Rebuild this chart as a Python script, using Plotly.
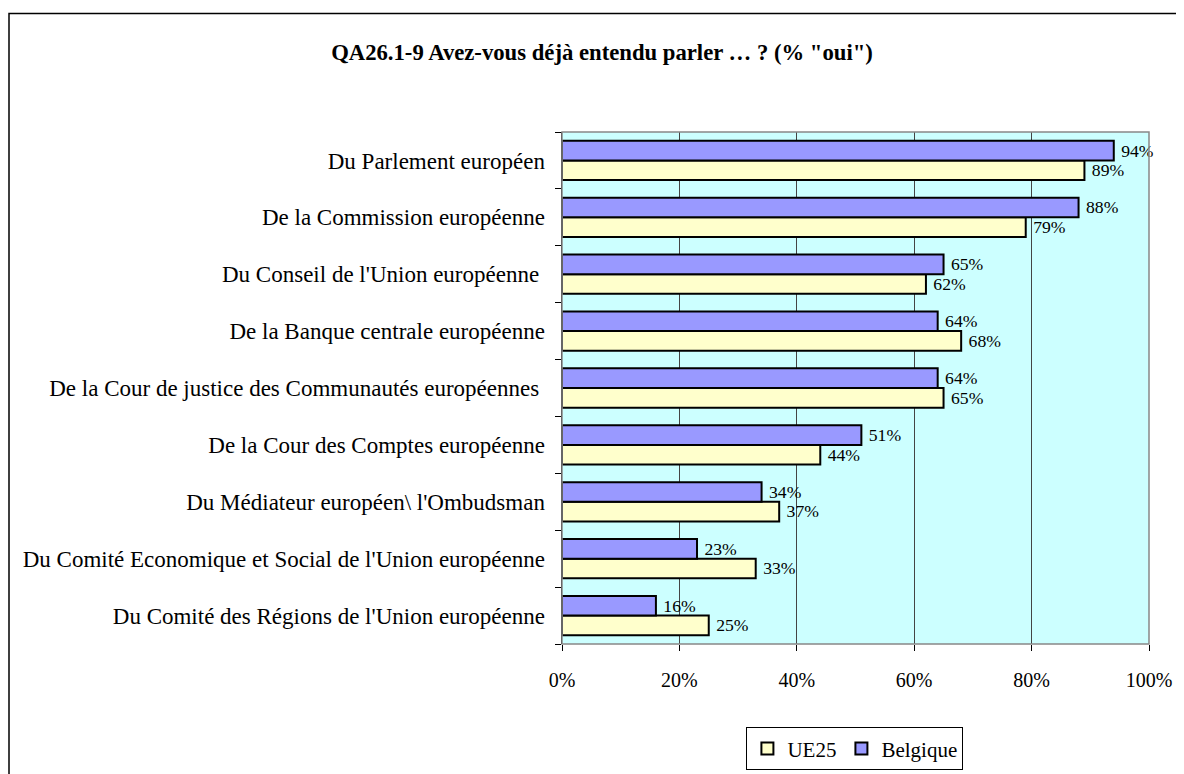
import plotly.graph_objects as go

categories = [
    "Du Parlement européen",
    "De la Commission européenne",
    "Du Conseil de l'Union européenne ",
    "De la Banque centrale européenne",
    "De la Cour de justice des Communautés européennes ",
    "De la Cour des Comptes européenne",
    "Du Médiateur européen\\ l'Ombudsman",
    "Du Comité Economique et Social de l'Union européenne",
    "Du Comité des Régions de l'Union européenne",
]
ue25 = [89, 79, 62, 68, 65, 44, 37, 33, 25]
belgique = [94, 88, 65, 64, 64, 51, 34, 23, 16]
tick_vals = [0, 20, 40, 60, 80, 100]
tick_text = ["0%", "20%", "40%", "60%", "80%", "100%"]

W, H = 1184, 774
L, R, T, B = 554, 43, 124, 131
pw, ph = W - L - R, H - T - B

font = "Liberation Serif"
fig = go.Figure()
fig.add_trace(go.Bar(
    y=categories, x=ue25, orientation="h", name="UE25",
    marker=dict(color="#FFFFCC", line=dict(color="black", width=2)),
    text=[f" {v}%" for v in ue25], textposition="outside", cliponaxis=False,
    textfont=dict(family=font, size=18, color="black"),
))
fig.add_trace(go.Bar(
    y=categories, x=belgique, orientation="h", name="Belgique",
    marker=dict(color="#9999FF", line=dict(color="black", width=2)),
    text=[f" {v}%" for v in belgique], textposition="outside", cliponaxis=False,
    textfont=dict(family=font, size=18, color="black"),
))

fig.update_layout(
    width=W, height=H,
    margin=dict(l=L, r=R, t=T, b=B),
    barmode="group", bargap=0.31, bargroupgap=0,
    paper_bgcolor="white", plot_bgcolor="#CCFFFF",
    font=dict(family=font, size=23, color="black"),
    title=dict(text="<b>QA26.1-9 Avez-vous déjà entendu parler … ? (% \"oui\")</b>",
               x=594 / W, xanchor="center", y=1 - 44 / H, yanchor="middle",
               font=dict(family=font, size=22.7, color="black")),
    legend=dict(orientation="h", x=0.499, xanchor="center", y=-0.163, yanchor="top",
                bordercolor="black", borderwidth=1, bgcolor="white",
                font=dict(family=font, size=21), traceorder="normal",
                itemwidth=30),
    xaxis=dict(range=[0, 100], tickvals=tick_vals, ticktext=tick_text,
               showgrid=True, gridcolor="#444444", gridwidth=1,
               ticks="outside", ticklen=6, tickcolor="black",
               ticklabelstandoff=12,
               showline=False, zeroline=False, tickfont=dict(size=20)),
    yaxis=dict(categoryorder="array", categoryarray=categories[::-1],
               ticks="outside", tickson="boundaries", ticklen=6, tickcolor="black",
               showline=True, linecolor="black", linewidth=1,
               showgrid=False, tickfont=dict(size=23), ticksuffix="  "),
    shapes=[
        dict(type="rect", xref="paper", yref="paper", x0=0, x1=1, y0=0, y1=1,
             line=dict(color="#888888", width=1.5), layer="above"),
        dict(type="rect", xref="paper", yref="paper",
             x0=(1 - L) / pw, x1=(W + 10 - L) / pw,
             y0=(T + ph - (H + 20)) / ph, y1=(T + ph - 4) / ph,
             line=dict(color="black", width=1.5)),
    ],
)
fig.write_html("out.html")
